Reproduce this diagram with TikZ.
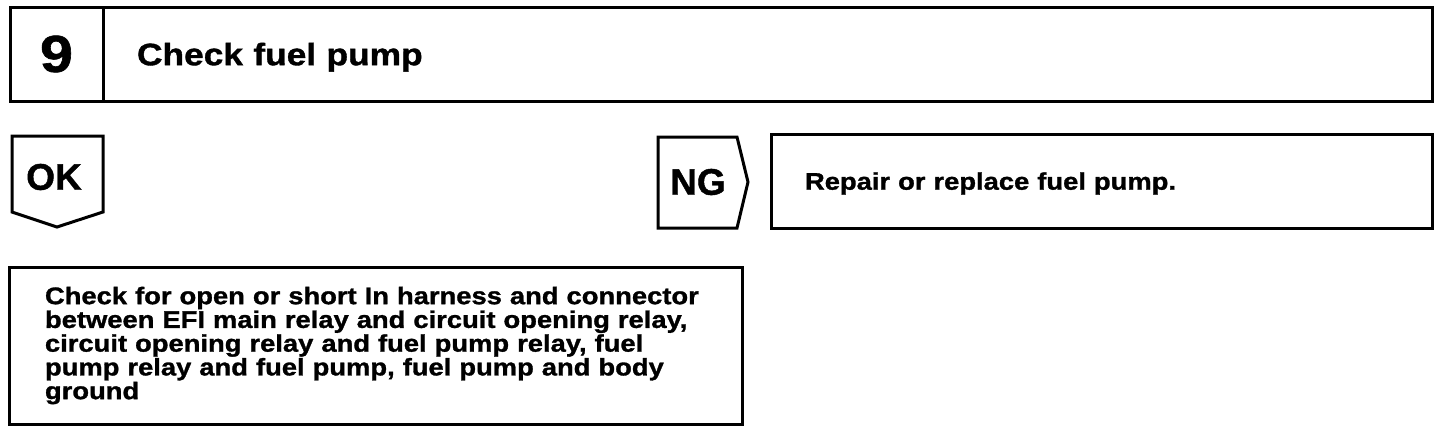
\documentclass[tikz,border=0pt]{standalone}
\usepackage{fontspec}
\setmainfont{Liberation Sans}[BoldFeatures={FakeBold=1.2}]
\newfontfamily\widefont[FakeStretch=1.14, BoldFeatures={FakeBold=1.2}]{Liberation Sans}
\begin{document}
\begin{tikzpicture}[x=1pt, y=-1pt,
                    every node/.style={inner sep=0pt, outer sep=0pt},
                    box/.style={draw, line width=3pt, rectangle, anchor=north west, align=left},
                    outline/.style={draw, line width=3pt, line join=miter},
                    tag/.style={font=\bfseries\fontsize{37}{40}\selectfont}
                    ]
                    \useasboundingbox (0,0) rectangle (1440,432);

                    \node[box, minimum width=93pt, minimum height=94pt, align=center,
                          font=\widefont\bfseries\fontsize{52}{56}\selectfont] (num) at (10,7) {9};
                    \node[box, minimum height=94pt, inner xsep=34pt, text width=1261pt, text depth=0pt,
                          font=\widefont\bfseries\fontsize{31}{34}\selectfont] (title) at (103,7) {Check fuel pump};

                    \draw[outline] (12,136) -- (103,136) -- (103,212) -- (57,227) -- (12,212) -- cycle;
                    \node[tag] (ok) at (54,177) {OK};

                    \draw[outline] (658,137) -- (737,137) -- (748,182) -- (737,228) -- (658,228) -- cycle;
                    \node[tag] (ng) at (698,182) {NG};

                    \node[box, minimum height=94pt, inner xsep=34pt, text width=593pt, text depth=0pt,
                          font=\widefont\bfseries\fontsize{24}{26}\selectfont] (fix) at (771,134) {Repair or replace fuel pump.};

                    \node[box, minimum height=157pt, inner xsep=36pt, text width=661pt,
                          font=\widefont\bfseries\fontsize{24}{23.75}\selectfont] (harness) at (9,267)
                          {Check for open or short In harness and connector\\
                           between EFI main relay and circuit opening relay,\\
                           circuit opening relay and fuel pump relay, fuel\\
                           pump relay and fuel pump, fuel pump and body\\
                           ground};
                \end{tikzpicture}
\end{document}
